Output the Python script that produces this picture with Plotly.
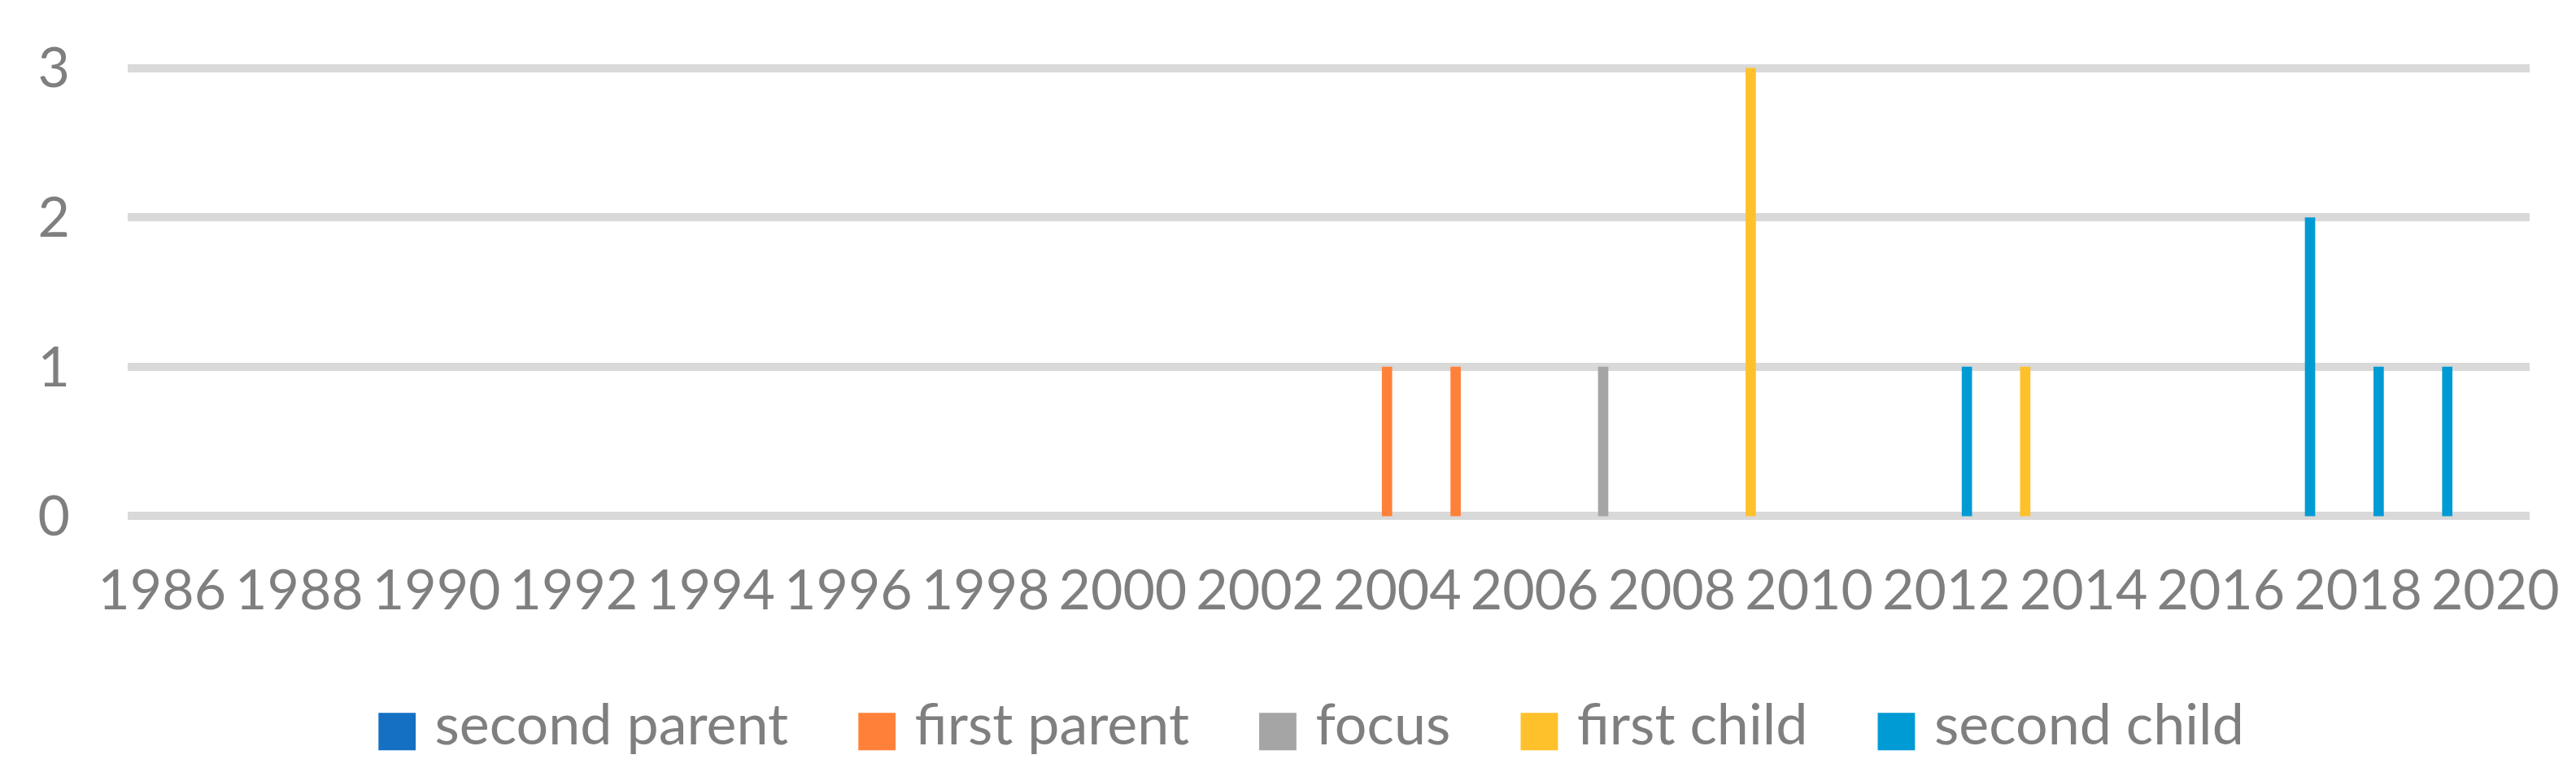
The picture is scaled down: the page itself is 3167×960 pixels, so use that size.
import plotly.graph_objects as go

years = list(range(1986, 2021))
series_names = ["second parent", "first parent", "focus", "first child", "second child"]

second_parent = [0] * len(years)
first_parent = [0] * len(years)
focus = [0] * len(years)
first_child = [0] * len(years)
second_child = [0] * len(years)

def put(arr, year, val):
    arr[years.index(year)] = val

put(first_parent, 2004, 1)
put(first_parent, 2005, 1)
put(focus, 2007, 1)
put(first_child, 2009, 3)
put(first_child, 2013, 1)
put(second_child, 2012, 1)
put(second_child, 2017, 2)
put(second_child, 2018, 1)
put(second_child, 2019, 1)

series_values = [second_parent, first_parent, focus, first_child, second_child]
colors = ["#1570C4", "#FF8139", "#A5A5A5", "#FFC12B", "#009AD4"]

x_tickvals = list(range(1986, 2021, 2))
x_ticktext = [str(v) for v in x_tickvals]
y_tickvals = [0, 1, 2, 3]

PAD = "\u00a0" * 2
fig = go.Figure()
for name, vals, col in zip(series_names, series_values, colors):
    fig.add_trace(go.Bar(x=years, y=vals, name=name, legendgroup=name, showlegend=False,
                         marker=dict(color=col, line=dict(width=0))))
# legend entries with large square swatches
for name, col in zip(series_names, colors):
    label = (f'<span style="color:{col};font-family:DejaVu Sans;font-size:60px">\u25A0</span>'
             f'\u00a0{name}{PAD}')
    fig.add_trace(go.Scatter(x=[None], y=[None], mode="none", name=label, legendgroup=name,
                             showlegend=True, hoverinfo="skip"))

font_family = "Lato, 'Open Sans', sans-serif"
fig.update_layout(
    width=3167, height=960,
    margin=dict(l=149, r=65, t=70, b=328),
    barmode="group", bargap=0.25, bargroupgap=0,
    plot_bgcolor="white", paper_bgcolor="white",
    font=dict(family=font_family, color="#7F7F7F"),
    showlegend=True,
    legend=dict(orientation="h", x=0.492, xanchor="center", y=-0.44, yanchor="middle",
                font=dict(size=70, color="#7F7F7F", family=font_family),
                itemclick=False, itemwidth=30, traceorder="normal"),
)
fig.update_xaxes(range=[1985.5, 2020.5], tickmode="array", tickvals=x_tickvals, ticktext=x_ticktext,
                 showgrid=False, zeroline=False, showline=False, ticks="", tickangle=0,
                 tickfont=dict(size=68, color="#7F7F7F"), ticklabelstandoff=40)
fig.update_yaxes(range=[-0.03, 3.03], tickmode="array", tickvals=y_tickvals,
                 showgrid=True, gridcolor="#D9D9D9", gridwidth=10, zeroline=False, showline=False,
                 ticks="", tickfont=dict(size=68, color="#7F7F7F"), ticklabelstandoff=70)

fig.write_html("out.html")
